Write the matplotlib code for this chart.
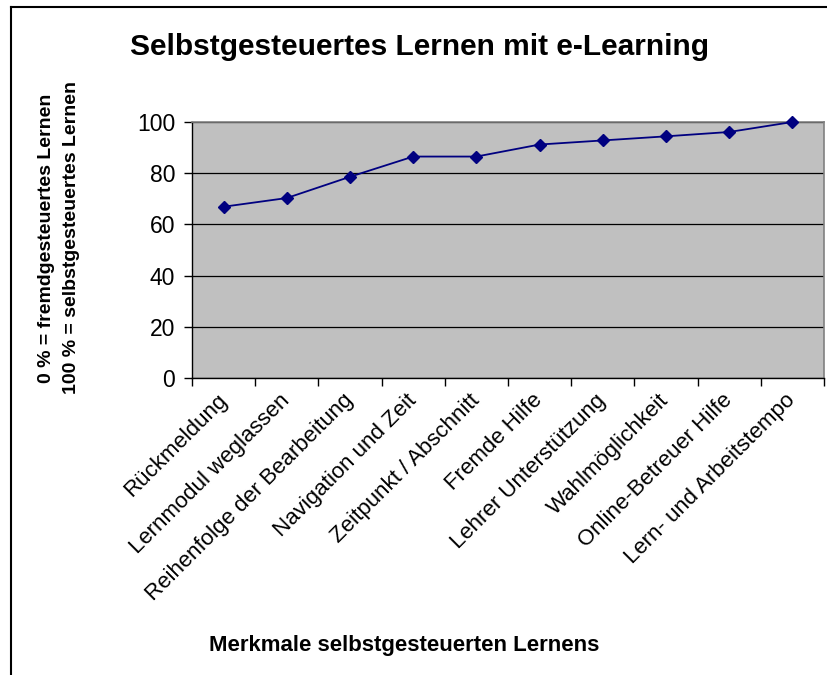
import numpy as np
import matplotlib
matplotlib.use('Agg')
import matplotlib.pyplot as plt
from matplotlib.lines import Line2D

plt.rcParams['font.family'] = ['Liberation Sans', 'DejaVu Sans']

# data
merkmale = ['Rückmeldung', 'Lernmodul weglassen', 'Reihenfolge der Bearbeitung',
            'Navigation und Zeit', 'Zeitpunkt / Abschnitt', 'Fremde Hilfe',
            'Lehrer Unterstützung', 'Wahlmöglichkeit', 'Online-Betreuer Hilfe',
            'Lern- und Arbeitstempo']
prozent = [66.9, 70.3, 78.6, 86.5, 86.5, 91.2, 92.8, 94.4, 96.1, 100.0]

W, H = 828, 675
fig = plt.figure(figsize=(W / 100, H / 100), dpi=100)
ax = fig.add_axes([192 / W, 1 - 378 / H, (824 - 192) / W, (378 - 122) / H])

x = np.arange(len(merkmale))
ax.set_facecolor('#C0C0C0')
ax.plot(x, prozent, color='#000080', lw=1.3, marker='D', ms=6.5,
        mfc='#000080', mec='#000080', zorder=3, clip_on=False)

ax.set_xlim(-0.5, len(merkmale) - 0.5)
ax.set_ylim(0, 100)
ax.set_yticks(np.arange(0, 101, 20))
ax.yaxis.grid(True, color='black', lw=0.9)
ax.set_axisbelow(True)

# ticks between categories, labels at the centres
ax.set_xticks(np.arange(-0.5, len(merkmale), 1.0))
ax.set_xticklabels([])
ax.set_xticks(x, minor=True)
ax.set_xticklabels(merkmale, minor=True, rotation=45, ha='right', va='center',
                   rotation_mode='anchor', fontsize=16)
ax.tick_params(axis='x', which='minor', length=0, pad=14)
ax.tick_params(axis='x', which='major', length=6, width=1, direction='out')
ax.tick_params(axis='y', length=6, width=1, labelsize=16.5, pad=6)

for s in ['top', 'right']:
    ax.spines[s].set_color('#808080')
    ax.spines[s].set_linewidth(1.2)
for s in ['left', 'bottom']:
    ax.spines[s].set_color('black')
    ax.spines[s].set_linewidth(1.0)

fig.text(420 / W, 1 - 47 / H, 'Selbstgesteuertes Lernen mit e-Learning',
         ha='center', va='center', fontsize=21.5, fontweight='bold')
fig.text(47 / W, 1 - 238 / H, '0 % = fremdgesteuertes Lernen',
         ha='center', va='center', rotation=90, fontsize=14, fontweight='bold')
fig.text(72 / W, 1 - 238 / H, '100 % = selbstgesteuertes Lernen',
         ha='center', va='center', rotation=90, fontsize=14, fontweight='bold')
fig.text(404 / W, 1 - 645 / H, 'Merkmale selbstgesteuerten Lernens',
         ha='center', va='center', fontsize=16, fontweight='bold')

# outer frame (left and top only visible)
fig.add_artist(Line2D([11 / W, 11 / W], [0, 1 - 7 / H], color='black', lw=1.5,
                      transform=fig.transFigure))
fig.add_artist(Line2D([11 / W, 1], [1 - 7 / H, 1 - 7 / H], color='black', lw=1.5,
                      transform=fig.transFigure))

fig.savefig('out.png', dpi=100)
